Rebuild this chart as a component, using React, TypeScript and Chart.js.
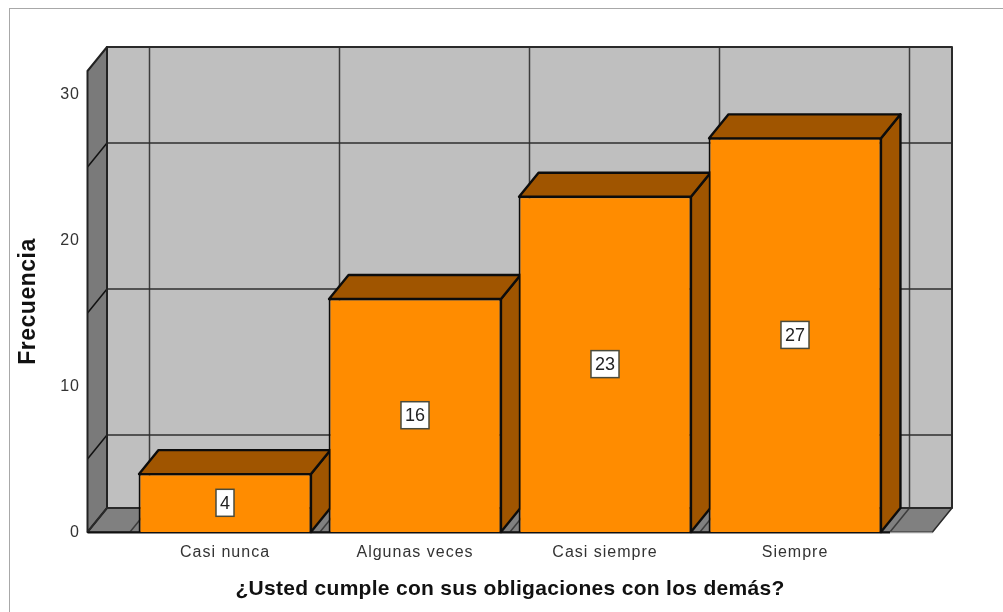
import React, { useEffect, useRef } from "react";
import { Chart, registerables } from "chart.js";

Chart.register(...registerables);

const categories = ["Casi nunca", "Algunas veces", "Casi siempre", "Siempre"];
const frequencies = [4, 16, 23, 27];
const wallGridValues = [5, 15, 25];
const yTitle = "Frecuencia";
const xTitle = "¿Usted cumple con sus obligaciones con los demás?";

const DX = 19.5;
const DY = 24;
const SIDE_MARGIN = 42.5;
const FONT = "'Liberation Sans', Arial, sans-serif";

const poly = (ctx: CanvasRenderingContext2D, pts: number[][], fill: string | null, stroke: string | null, lw = 2) => {
  ctx.beginPath();
  pts.forEach((p, i) => (i ? ctx.lineTo(p[0], p[1]) : ctx.moveTo(p[0], p[1])));
  ctx.closePath();
  if (fill) {
    ctx.fillStyle = fill;
    ctx.fill();
  }
  if (stroke) {
    ctx.strokeStyle = stroke;
    ctx.lineWidth = lw;
    ctx.lineJoin = "round";
    ctx.stroke();
  }
};

const seg = (ctx: CanvasRenderingContext2D, x1: number, y1: number, x2: number, y2: number, color: string, lw: number) => {
  ctx.beginPath();
  ctx.moveTo(x1, y1);
  ctx.lineTo(x2, y2);
  ctx.strokeStyle = color;
  ctx.lineWidth = lw;
  ctx.stroke();
};

// Letter spacing for a scale's tick labels and title, applied only while each is drawn.
const spaceText = (scale: any, ticksSpacing: string, titleSpacing: string) => {
  if (scale.__spaced) return;
  scale.__spaced = true;
  const ctx = scale.ctx;
  const drawLabels = scale.drawLabels.bind(scale);
  const drawTitle = scale.drawTitle.bind(scale);
  scale.drawLabels = (area: any) => {
    ctx.letterSpacing = ticksSpacing;
    drawLabels(area);
    ctx.letterSpacing = "0px";
  };
  scale.drawTitle = () => {
    ctx.letterSpacing = titleSpacing;
    drawTitle();
    ctx.letterSpacing = "0px";
  };
};

const scene3d = {
  id: "scene3d",
  beforeDatasetsDraw(chart: any) {
    const { ctx, chartArea, scales } = chart;
    const x = scales.x;
    const y = scales.y;
    const L = chartArea.left - SIDE_MARGIN;
    const R = chartArea.right + SIDE_MARGIN;
    const T = chartArea.top;
    const B = chartArea.bottom;
    ctx.save();
    seg(ctx, 9.5, 8, 9.5, chart.height, "#a8a8a8", 1);
    seg(ctx, 9, 8.5, chart.width, 8.5, "#a8a8a8", 1);

    poly(ctx, [[L + DX, T - DY], [R + DX, T - DY], [R + DX, B - DY], [L + DX, B - DY]], "#bfbfbf", null);
    poly(ctx, [[L, T], [L + DX, T - DY], [L + DX, B - DY], [L, B]], "#7a7a7a", null);
    poly(ctx, [[L, B], [L + DX, B - DY], [R + DX, B - DY], [R, B]], "#808080", null);

    const band = x.getPixelForTick(1) - x.getPixelForTick(0);
    for (let i = 0; i <= categories.length; i++) {
      const fx = x.getPixelForTick(0) - band / 2 + i * band;
      seg(ctx, fx + DX, T - DY, fx + DX, B - DY, "#3c3c3c", 1.5);
      seg(ctx, fx, B, fx + DX, B - DY, "#3c3c3c", 1.5);
    }
    wallGridValues.forEach((v) => {
      const py = y.getPixelForValue(v);
      seg(ctx, L + DX, py - DY, R + DX, py - DY, "#2e2e2e", 1.5);
      seg(ctx, L, py, L + DX, py - DY, "#111", 1.5);
    });

    poly(ctx, [[L + DX, T - DY], [R + DX, T - DY], [R + DX, B - DY], [L + DX, B - DY]], null, "#2a2a2a", 2);
    poly(ctx, [[L, T], [L + DX, T - DY], [L + DX, B - DY], [L, B]], null, "#222", 2);
    poly(ctx, [[L, B], [L + DX, B - DY], [R + DX, B - DY], [R, B]], null, "#2a2a2a", 1.5);
    seg(ctx, chartArea.right, B + 0.5, R, B + 0.5, "#9a9a9a", 1.5);
    seg(ctx, L, B + 0.5, chartArea.right, B + 0.5, "#111", 2);

    const meta = chart.getDatasetMeta(0);
    meta.data.forEach((bar: any) => {
      const half = bar.width / 2;
      const l = bar.x - half + 0.5;
      const r = bar.x + half - 0.5;
      const t = bar.y + 0.5;
      const b = bar.base;
      poly(ctx, [[r, t], [r + DX, t - DY], [r + DX, b - DY], [r, b]], "#a05500", "#0c0c0c", 2.4);
      poly(ctx, [[l, t], [l + DX, t - DY], [r + DX, t - DY], [r, t]], "#a05500", "#0c0c0c", 2.4);
    });
    ctx.restore();
  },
  afterDatasetsDraw(chart: any) {
    const { ctx } = chart;
    const meta = chart.getDatasetMeta(0);
    ctx.save();
    ctx.font = `18px ${FONT}`;
    ctx.textAlign = "center";
    ctx.textBaseline = "middle";
    meta.data.forEach((bar: any, i: number) => {
      const text = String(frequencies[i]);
      const cy = (bar.y + bar.base) / 2;
      const w = ctx.measureText(text).width + 8;
      const h = 27;
      ctx.fillStyle = "#ffffff";
      ctx.fillRect(bar.x - w / 2, cy - h / 2, w, h);
      ctx.strokeStyle = "#4a4a3a";
      ctx.lineWidth = 1.5;
      ctx.strokeRect(bar.x - w / 2, cy - h / 2, w, h);
      ctx.fillStyle = "#222";
      ctx.fillText(text, bar.x, cy + 1);
    });
    ctx.restore();
  },
};

export default function App() {
  const ref = useRef<HTMLCanvasElement>(null);
  useEffect(() => {
    const chart = new Chart(ref.current as HTMLCanvasElement, {
      type: "bar",
      data: {
        labels: categories,
        datasets: [
          {
            data: frequencies,
            backgroundColor: "#ff8c00",
            borderColor: "#0c0c0c",
            borderWidth: 2,
            barPercentage: 0.91,
            categoryPercentage: 1,
          },
        ],
      },
      options: {
        responsive: false,
        animation: false,
        layout: { padding: { left: 0, right: 113, top: 71, bottom: 0 } },
        plugins: { legend: { display: false }, tooltip: { enabled: false } },
        scales: {
          x: {
            grid: { display: false, drawTicks: false },
            border: { display: false },
            ticks: { color: "#333", font: { family: FONT, size: 16 }, padding: 11, maxRotation: 0 },
            title: {
              display: true,
              text: xTitle,
              color: "#111",
              font: { family: FONT, size: 21, weight: "bold" },
              padding: { top: 0, bottom: 10 },
            },
            afterFit(scale: any) {
              scale.height = 80;
              spaceText(scale, "1px", "0.3px");
            },
          },
          y: {
            min: 0,
            max: 31.58,
            grid: { display: false, drawTicks: false },
            border: { display: false },
            ticks: {
              stepSize: 10,
              includeBounds: false,
              color: "#333",
              font: { family: FONT, size: 16 },
              padding: 50,
              labelOffset: 1,
            },
            title: {
              display: true,
              text: yTitle,
              color: "#111",
              font: { family: FONT, size: 23, weight: "bold" },
              padding: { top: 15, bottom: 0 },
            },
            afterFit(scale: any) {
              scale.width = 130;
              spaceText(scale, "1px", "0.5px");
            },
          },
        },
      },
      plugins: [scene3d],
    } as any);
    return () => chart.destroy();
  }, []);
  return (
    <canvas
      ref={ref}
      width={1003}
      height={612}
      style={{ position: "fixed", left: 0, top: 0, width: 1003, height: 612, background: "#fff" }}
    />
  );
}
